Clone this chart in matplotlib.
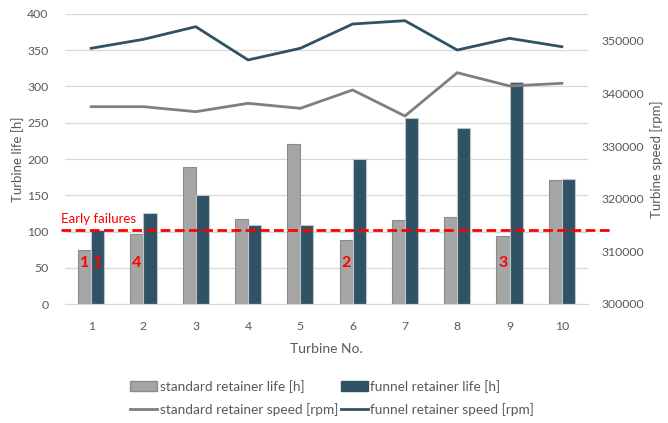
import matplotlib.pyplot as plt
import matplotlib.transforms as mtransforms
import numpy as np
from matplotlib.lines import Line2D
from matplotlib.patches import Patch

plt.rcParams['font.family'] = ['Lato', 'DejaVu Sans']

# data
turbines = [1, 2, 3, 4, 5, 6, 7, 8, 9, 10]
standard_life = [75, 97, 189, 117, 220, 88, 116, 120, 94, 171]
funnel_life = [102, 126, 150, 109, 109, 200, 257, 243, 306, 172]
standard_speed = [337470, 337470, 336520, 338110, 337160, 340640, 335700, 343920, 341400, 341910]
funnel_speed = [348560, 350260, 352660, 346340, 348560, 353170, 353800, 348230, 350450, 348860]
early_failure_limit = 102
# failure order labels: (turbine, which bar, label)
failure_marks = [(1, 'standard', '1'), (1, 'funnel', '1'), (2, 'standard', '4'),
                 (6, 'standard', '2'), (9, 'standard', '3')]

c_std = '#A5A5A5'
c_fun = '#2F5264'
c_std_line = '#7F7F7F'
c_text = '#595959'
c_grid = '#D9D9D9'

fig = plt.figure(figsize=(6.68, 4.23), dpi=100)
ax = fig.add_axes([65 / 668, 1 - 304 / 423, 523 / 668, 290 / 423])

x = np.array(turbines)
w = 0.25
ax.bar(x - w / 2, standard_life, width=w, color=c_std, edgecolor='#8C8C8C', linewidth=0.8, zorder=2)
ax.bar(x + w / 2, funnel_life, width=w, color=c_fun, edgecolor='#BFC5CA', linewidth=0.8, zorder=2)

ax.set_xlim(0.5, 10.5)
ax.set_ylim(0, 400)
ax.set_yticks(range(0, 401, 50))
ax.set_xticks(turbines)
ax.grid(axis='y', color=c_grid, linewidth=0.9, zorder=0)
ax.set_axisbelow(True)
for s in ['top', 'right', 'left']:
    ax.spines[s].set_visible(False)
ax.spines['bottom'].set_color(c_grid)
ax.tick_params(length=0, labelsize=8.8, colors=c_text)
ax.tick_params(axis='y', pad=12)
ax.tick_params(axis='x', pad=12)
ax.set_ylabel('Turbine life [h]', fontsize=9.5, color=c_text, labelpad=2)
ax.set_xlabel('Turbine No.', fontsize=10, color=c_text, labelpad=8)

# early failures threshold, sticks out past the plot area
ax.axhline(early_failure_limit, xmin=(61 - 65) / 523, xmax=(613 - 65) / 523,
           color='#FF0000', linestyle=(0, (3.5, 1.6)), linewidth=2, clip_on=False, zorder=6)
trans = mtransforms.blended_transform_factory(fig.transFigure, ax.transData)
ax.text(61 / 668, early_failure_limit + 7, 'Early failures', transform=trans,
        color='#FF0000', fontsize=9.5, va='bottom', ha='left')

for t, which, lab in failure_marks:
    xp = t - w / 2 if which == 'standard' else t + w / 2
    ax.text(xp, 57, lab, color='#FF0000', fontsize=11.5, fontweight='bold',
            ha='center', va='center', zorder=7)

ax2 = ax.twinx()
ax2.plot(x, standard_speed, color=c_std_line, linewidth=2)
ax2.plot(x, funnel_speed, color=c_fun, linewidth=2)
ax2.set_ylim(300000, 355070)
ax2.set_yticks(range(300000, 350001, 10000))
for s in ax2.spines.values():
    s.set_visible(False)
ax2.tick_params(length=0, labelsize=8.8, colors=c_text, pad=10)
ax2.set_ylabel('Turbine speed [rpm]', fontsize=9.5, color=c_text, labelpad=4)

# legend fills column-wise, so order gives rows: bars on top, lines below
handles = [Patch(facecolor=c_std, edgecolor='#8C8C8C'),
           Line2D([], [], color=c_std_line, linewidth=2),
           Patch(facecolor=c_fun, edgecolor=c_fun),
           Line2D([], [], color=c_fun, linewidth=2)]
labels = ['standard retainer life [h]', 'standard retainer speed [rpm]',
          'funnel retainer life [h]', 'funnel retainer speed [rpm]']
fig.legend(handles, labels, loc='center', bbox_to_anchor=(332 / 668, 1 - 398 / 423),
           ncol=2, frameon=False, fontsize=9.8, labelcolor=c_text,
           handlelength=2.0, handletextpad=0.15, columnspacing=0.2, labelspacing=0.75)

fig.savefig('out.png', dpi=100)
